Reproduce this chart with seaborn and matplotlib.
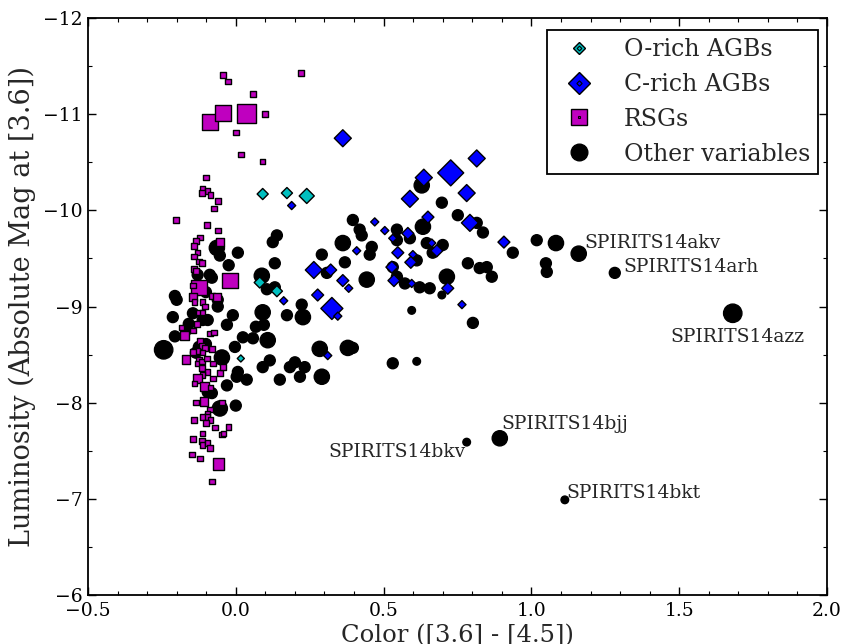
import matplotlib
matplotlib.use("Agg")
import matplotlib.pyplot as plt
from matplotlib.lines import Line2D
from matplotlib.legend_handler import HandlerTuple
from matplotlib.ticker import MultipleLocator
import pandas as pd
import seaborn as sns

# O-rich AGBs
orich_x = [0.091, 0.173, 0.240, 0.081, 0.139, 0.017]
orich_y = [-10.17, -10.18, -10.15, -9.25, -9.16, -8.46]
orich_lvl = [2, 2, 3, 2, 2, 1]

# C-rich AGBs
crich_x = [0.362, 0.815, 0.727, 0.636, 0.589, 0.781, 0.189, 0.650, 0.792, 0.470,
           0.504, 0.531, 0.582, 0.663, 0.680, 0.599, 0.548, 0.592, 0.409, 0.528,
           0.535, 0.595, 0.717, 0.765, 0.907, 0.264, 0.321, 0.362, 0.382, 0.162,
           0.277, 0.325, 0.345, 0.311]
crich_y = [-10.75, -10.54, -10.39, -10.34, -10.12, -10.18, -10.05, -9.93, -9.87, -9.88,
           -9.79, -9.71, -9.76, -9.66, -9.58, -9.54, -9.56, -9.46, -9.58, -9.41,
           -9.27, -9.24, -9.19, -9.02, -9.67, -9.38, -9.38, -9.27, -9.19, -9.06,
           -9.12, -8.98, -8.90, -8.49]
crich_lvl = [3, 3, 5, 3, 3, 3, 1, 2, 3, 1,
             1, 1, 2, 1, 2, 1, 2, 2, 1, 2,
             2, 1, 2, 1, 2, 3, 2, 2, 1, 1,
             2, 4, 1, 1]

# RSGs
rsg_x = [-0.044, -0.027, 0.220, 0.058, -0.088, -0.044, 0.037, 0.098, 0.000, 0.017,
         0.091, -0.101, -0.112, -0.095, -0.115, -0.085, -0.061, -0.074, -0.203, -0.098,
         -0.061, -0.122, -0.135, -0.142, -0.054, -0.129, -0.142, -0.125, -0.115, -0.142,
         -0.135, -0.020, -0.125, -0.145, -0.145, -0.139, -0.081, -0.064, -0.112, -0.105,
         -0.125, -0.112, -0.183, -0.173, -0.145, -0.132, -0.088, -0.074, -0.122, -0.115,
         -0.129, -0.105, -0.112, -0.081, -0.145, -0.169, -0.125, -0.129, -0.115, -0.098,
         -0.078, -0.115, -0.095, -0.112, -0.054, -0.044, -0.129, -0.139, -0.105, -0.085,
         -0.078, -0.047, -0.135, -0.108, -0.088, -0.095, -0.098, -0.112, -0.085, -0.101,
         -0.142, -0.071, -0.024, -0.112, -0.047, -0.041, -0.145, -0.115, -0.112, -0.095,
         -0.088, -0.149, -0.122, -0.058, -0.081]
rsg_y = [-11.41, -11.34, -11.43, -11.21, -10.92, -11.01, -11.01, -11.00, -10.81, -10.58,
         -10.51, -10.34, -10.22, -10.20, -10.18, -10.16, -10.10, -10.02, -9.90, -9.85,
         -9.79, -9.72, -9.68, -9.63, -9.67, -9.56, -9.52, -9.47, -9.45, -9.39,
         -9.37, -9.27, -9.20, -9.22, -9.10, -9.05, -9.11, -9.10, -9.05, -9.00,
         -8.94, -8.94, -8.78, -8.70, -8.75, -8.82, -8.72, -8.73, -8.64, -8.59,
         -8.54, -8.57, -8.52, -8.56, -8.53, -8.45, -8.45, -8.41, -8.43, -8.46,
         -8.41, -8.36, -8.32, -8.29, -8.31, -8.37, -8.25, -8.20, -8.17, -8.16,
         -8.25, -8.00, -8.00, -8.01, -7.93, -7.89, -7.85, -7.85, -7.82, -7.79,
         -7.82, -7.74, -7.75, -7.68, -7.67, -7.68, -7.62, -7.60, -7.56, -7.58,
         -7.53, -7.46, -7.42, -7.36, -7.18]
rsg_lvl = [1, 1, 1, 1, 4, 4, 5, 1, 1, 1,
           1, 1, 1, 1, 1, 1, 1, 1, 1, 1,
           1, 1, 1, 1, 2, 1, 1, 1, 1, 1,
           1, 4, 4, 1, 2, 1, 1, 2, 1, 1,
           1, 1, 1, 2, 1, 1, 1, 1, 1, 1,
           1, 1, 1, 1, 1, 2, 1, 1, 1, 1,
           1, 1, 1, 1, 1, 1, 2, 1, 2, 1,
           1, 1, 1, 2, 1, 1, 1, 1, 1, 1,
           1, 1, 1, 1, 1, 1, 1, 1, 1, 1,
           1, 1, 1, 3, 1]

# Other variables
other_x = [-0.244, -0.213, -0.206, -0.200, -0.206, -0.159, -0.166, -0.145, -0.112, -0.095,
           -0.129, -0.088, -0.064, -0.054, 0.007, -0.024, -0.081, -0.061, -0.061, -0.010,
           -0.101, -0.135, -0.125, -0.047, -0.003, -0.030, -0.030, 0.007, 0.003, 0.037,
           0.000, -0.054, -0.095, -0.081, 0.024, 0.058, 0.068, 0.095, 0.108, 0.115,
           0.091, 0.091, 0.088, 0.132, 0.105, 0.173, 0.227, 0.223, 0.149, 0.183,
           0.200, 0.217, 0.233, 0.291, 0.284, 0.379, 0.396, 0.531, 0.612, 0.595,
           0.802, 0.362, 0.132, 0.139, 0.125, 0.291, 0.369, 0.396, 0.419, 0.426,
           0.460, 0.453, 0.545, 0.545, 0.589, 0.633, 0.697, 0.629, 0.751, 0.815,
           0.836, 0.646, 0.666, 0.700, 0.612, 0.531, 0.545, 0.572, 0.622, 0.656,
           0.714, 0.697, 0.785, 0.825, 0.849, 0.866, 0.937, 1.018, 1.083, 1.049,
           1.052, 0.443, 0.308, -0.101]
other_y = [-8.55, -8.89, -9.11, -9.07, -8.69, -8.82, -8.76, -8.93, -8.86, -8.86,
           -9.33, -9.33, -9.61, -9.53, -9.56, -9.43, -9.30, -9.07, -9.00, -8.91,
           -8.61, -8.52, -8.58, -8.47, -8.58, -8.81, -8.18, -8.32, -8.27, -8.24,
           -7.97, -7.94, -8.11, -8.10, -8.68, -8.67, -8.79, -8.81, -8.65, -8.44,
           -8.37, -8.94, -9.32, -9.20, -9.18, -8.91, -8.89, -9.02, -8.24, -8.37,
           -8.42, -8.27, -8.37, -8.27, -8.56, -8.57, -8.57, -8.41, -8.43, -8.96,
           -8.83, -9.66, -9.45, -9.74, -9.67, -9.54, -9.46, -9.90, -9.80, -9.74,
           -9.62, -9.54, -9.80, -9.69, -9.71, -9.83, -10.08, -10.26, -9.95, -9.87,
           -9.77, -9.66, -9.56, -9.64, -9.48, -9.41, -9.31, -9.24, -9.20, -9.19,
           -9.31, -9.12, -9.45, -9.40, -9.41, -9.31, -9.56, -9.69, -9.66, -9.45,
           -9.36, -9.28, -9.35, -9.15]
other_lvl = [4, 2, 2, 2, 2, 2, 2, 2, 2, 2,
             2, 2, 3, 2, 2, 2, 2, 2, 2, 2,
             2, 2, 2, 3, 2, 2, 2, 2, 2, 2,
             2, 3, 2, 2, 2, 2, 2, 2, 3, 2,
             2, 3, 3, 2, 2, 2, 3, 2, 2, 2,
             2, 2, 2, 3, 3, 3, 2, 2, 1, 1,
             2, 3, 2, 2, 2, 2, 2, 2, 2, 2,
             2, 2, 2, 2, 2, 3, 2, 3, 2, 2,
             2, 2, 2, 2, 2, 2, 2, 2, 2, 2,
             3, 1, 2, 2, 2, 2, 2, 2, 3, 2,
             2, 3, 2, 2]

# named transients (also "other variables")
named = ["SPIRITS14akv", "SPIRITS14arh", "SPIRITS14azz",
         "SPIRITS14bjj", "SPIRITS14bkv", "SPIRITS14bkt"]
named_x = [1.160, 1.282, 1.681, 0.893, 0.781, 1.113]
named_y = [-9.55, -9.35, -8.93, -7.63, -7.59, -6.99]
named_lvl = [3, 2, 4, 3, 1, 1]

CYAN = (0.0, 0.75, 0.75)
BLUE = (0.0, 0.0, 1.0)
MAGENTA = (0.75, 0.0, 0.75)

sns.set_style("ticks")
plt.rcParams.update({
    "font.family": ["DejaVu Serif"],
    "xtick.direction": "in", "ytick.direction": "in",
    "xtick.top": True, "ytick.right": True,
    "xtick.major.size": 6, "ytick.major.size": 6,
    "xtick.minor.size": 3, "ytick.minor.size": 3,
    "xtick.major.width": 1, "ytick.major.width": 1,
    "xtick.minor.width": 0.8, "ytick.minor.width": 0.8,
    "xtick.color": "k", "ytick.color": "k",
    "axes.edgecolor": "k", "axes.linewidth": 1.3,
})

fig, ax = plt.subplots(figsize=(8.5, 6.44), dpi=100)
fig.subplots_adjust(left=0.1035, right=0.973, bottom=0.076, top=0.972)


def draw(x, y, lvl, marker, color, sizes, z):
    df = pd.DataFrame({"col": x, "mag": y, "lvl": lvl})
    sns.scatterplot(data=df, x="col", y="mag", size="lvl", sizes=sizes,
                    marker=marker, color=color, edgecolor="k", linewidth=1.0,
                    legend=False, ax=ax, zorder=z)


draw(other_x + named_x, other_y + named_y, other_lvl + named_lvl, "o", "k",
     {1: 30, 2: 62, 3: 120, 4: 175}, 2)
draw(rsg_x, rsg_y, rsg_lvl, "s", MAGENTA,
     {1: 16, 2: 38, 3: 70, 4: 126, 5: 180}, 3)
draw(crich_x, crich_y, crich_lvl, "D", BLUE,
     {1: 17, 2: 37, 3: 75, 4: 126, 5: 175}, 4)
draw(orich_x, orich_y, orich_lvl, "D", CYAN,
     {1: 13, 2: 32, 3: 59}, 5)

offsets = [(4, 8), (6, 4), (-45, -17), (1, 10), (-1, -7), (1, 5)]
for name, x, y, off in zip(named, named_x, named_y, offsets):
    ax.annotate(name, (x, y), xytext=off, textcoords="offset points",
                ha="right" if name.endswith("bkv") else "left",
                va="center", fontsize=13.5)

ax.set_xlim(-0.5, 2.0)
ax.set_ylim(-6, -12)
ax.xaxis.set_major_locator(MultipleLocator(0.5))
ax.xaxis.set_minor_locator(MultipleLocator(0.1))
ax.yaxis.set_major_locator(MultipleLocator(1))
ax.yaxis.set_minor_locator(MultipleLocator(0.5))
ax.tick_params(which="both", labelsize=13.5)
ax.tick_params(axis="x", pad=5)
ax.tick_params(axis="y", pad=4)
ax.set_xlabel("Color ([3.6] - [4.5])", fontsize=17.5, labelpad=3)
ax.set_ylabel("Luminosity (Absolute Mag at [3.6])", fontsize=19.5, labelpad=5)


def dual(marker, color, big, small):
    return (Line2D([], [], ls="none", marker=marker, ms=big, mfc=color, mec="k", mew=1.0),
            Line2D([], [], ls="none", marker=marker, ms=small, mfc=color, mec="k", mew=0.8))


handles = [dual("D", CYAN, 6.0, 2.4), dual("D", BLUE, 11, 2.7),
           dual("s", MAGENTA, 11, 1.4),
           Line2D([], [], ls="none", marker="o", ms=12, mfc="k", mec="k")]
labels = ["O-rich AGBs", "C-rich AGBs", "RSGs", "Other variables"]
leg = ax.legend(handles, labels, loc="upper right", bbox_to_anchor=(1.004, 1.0),
                fontsize=17, fancybox=False, framealpha=1, edgecolor="k",
                labelspacing=0.5, handletextpad=0.9, borderpad=0.35,
                borderaxespad=0.5, handler_map={tuple: HandlerTuple(ndivide=1)})
leg.get_frame().set_linewidth(1.3)

fig.savefig("out.png", dpi=100)
